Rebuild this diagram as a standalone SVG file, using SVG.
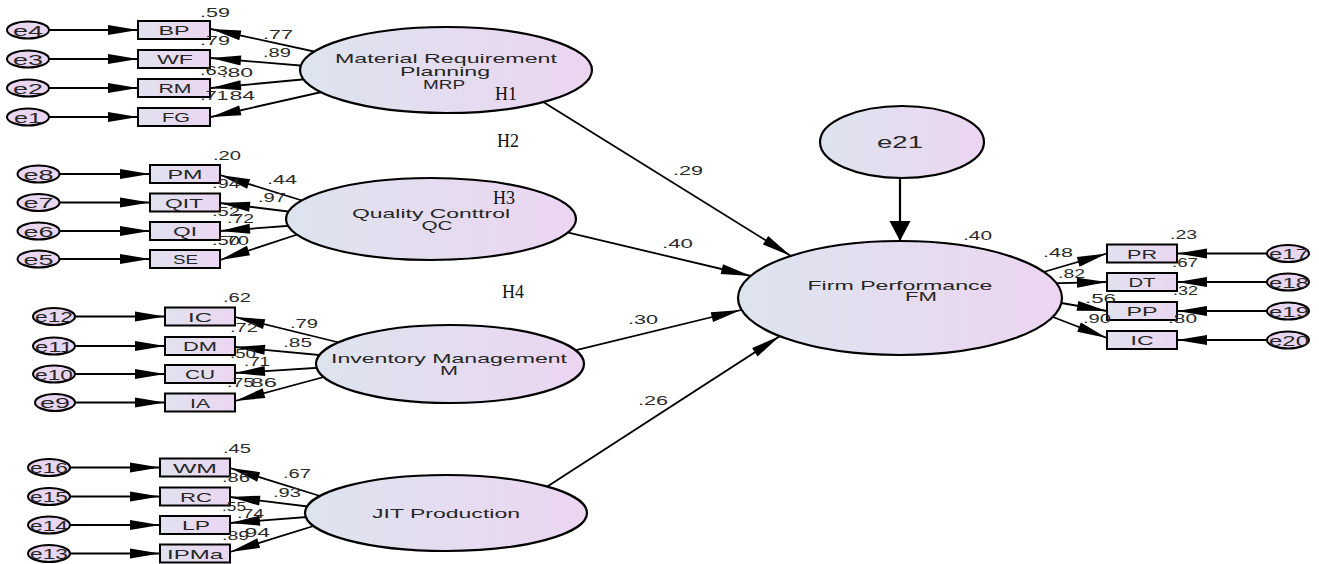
<svg xmlns="http://www.w3.org/2000/svg" width="1319" height="564" viewBox="0 0 1319 564">
<style>
.bg{fill:#ffffff}
.lat{stroke:#000;stroke-width:2.2;fill:url(#gl)}
.box{stroke:#000;stroke-width:2;fill:url(#gb)}
.err{stroke:#000;stroke-width:2;fill:#e9d6f0}
.c{stroke:#000;stroke-width:1.8;fill:none;marker-end:url(#ah)}
.c2{stroke:#000;stroke-width:2.2;fill:none;marker-end:url(#ahw)}
.t{font-family:"Liberation Sans",Arial,sans-serif;font-size:13.5px;fill:#262626}
.m{text-anchor:middle}
.e{font-family:"Liberation Sans",Arial,sans-serif;font-size:15px;fill:#262626;text-anchor:middle}
.n{font-family:"Liberation Sans",Arial,sans-serif;font-size:13.5px;fill:#2a2a2a}
.h{font-family:"Liberation Serif","Times New Roman",serif;font-size:18px;fill:#111}
</style>
<defs>
<linearGradient id="gl" x1="0" y1="0" x2="1" y2="0">
<stop offset="0" stop-color="#dde4ee"/>
<stop offset="1" stop-color="#ecd5f1"/>
</linearGradient>
<linearGradient id="gb" x1="0" y1="0" x2="1" y2="0">
<stop offset="0" stop-color="#e0e2ef"/>
<stop offset="1" stop-color="#ebd6f1"/>
</linearGradient>
<marker id="ah" markerUnits="userSpaceOnUse" markerWidth="31" markerHeight="11" refX="30" refY="5" orient="auto" overflow="visible">
<path d="M0,0 L30,5 L0,10 Z" fill="#000"/>
</marker>
<marker id="ahw" markerUnits="userSpaceOnUse" markerWidth="22" markerHeight="22" refX="20" refY="10.5" orient="auto" overflow="visible">
<path d="M0,0 L20,10.5 L0,21 Z" fill="#000"/>
</marker>
</defs>
<rect class="bg" x="0" y="0" width="1319" height="564"/>

<g id="connectors">
<path class="c" d="M49,30 L138,30"/>
<path class="c" d="M49,59 L138,59"/>
<path class="c" d="M49,88 L138,88"/>
<path class="c" d="M49,117 L138,117"/>
<path class="c" d="M59.5,174 L150,174"/>
<path class="c" d="M59.5,202.5 L150,202.5"/>
<path class="c" d="M59.5,231 L150,231"/>
<path class="c" d="M59.5,259 L150,259"/>
<path class="c" d="M75,316.5 L165,316.5"/>
<path class="c" d="M75,346 L165,346"/>
<path class="c" d="M75,374 L165,374"/>
<path class="c" d="M75,402.5 L165,402.5"/>
<path class="c" d="M70,467.5 L160,467.5"/>
<path class="c" d="M70,496.5 L160,496.5"/>
<path class="c" d="M70,525 L160,525"/>
<path class="c" d="M70,553.5 L160,553.5"/>
<path class="c" d="M1267,253.5 L1177,253.5"/>
<path class="c" d="M1267,282 L1177,282"/>
<path class="c" d="M1267,311 L1177,311"/>
<path class="c" d="M1267,340 L1177,340"/>
<path class="c" d="M330,55 L211,29"/>
<path class="c" d="M318,67 L211,58"/>
<path class="c" d="M318,78 L211,88"/>
<path class="c" d="M335,89 L211,117"/>
<path class="c" d="M310,203 L220,175"/>
<path class="c" d="M300,213 L220,203"/>
<path class="c" d="M300,225 L220,231"/>
<path class="c" d="M305,232 L220,260"/>
<path class="c" d="M345,344 L235,317"/>
<path class="c" d="M330,356 L235,347"/>
<path class="c" d="M330,367 L235,373"/>
<path class="c" d="M335,374 L235,401"/>
<path class="c" d="M320,496 L230,468"/>
<path class="c" d="M320,508 L230,497"/>
<path class="c" d="M320,516 L230,523"/>
<path class="c" d="M320,524 L230,552"/>
<path class="c" d="M540,100 L791,256"/>
<path class="c" d="M560,230.6 L751,276"/>
<path class="c" d="M570,351.7 L741,310"/>
<path class="c" d="M545,488 L780,336"/>
<path class="c2" d="M900,178 L900,241"/>
<path class="c" d="M1035,274.5 L1107,253.5"/>
<path class="c" d="M1050,283.3 L1107,282"/>
<path class="c" d="M1050,301 L1107,311"/>
<path class="c" d="M1035,310 L1107,338"/>
</g>

<g id="MRP">
<ellipse class="lat" cx="446" cy="70" rx="146" ry="43"/>
<text class="t m" x="446" y="63" textLength="222" lengthAdjust="spacingAndGlyphs">Material Requirement</text>
<text class="t m" x="445" y="76" textLength="90" lengthAdjust="spacingAndGlyphs">Planning</text>
<text class="t m" x="444" y="89" textLength="42" lengthAdjust="spacingAndGlyphs">MRP</text>
</g>
<g id="QC">
<ellipse class="lat" cx="431" cy="219" rx="145" ry="41"/>
<text class="t m" x="431" y="218" textLength="158" lengthAdjust="spacingAndGlyphs">Quality Conttrol</text>
<text class="t m" x="437" y="230" textLength="31" lengthAdjust="spacingAndGlyphs">QC</text>
</g>
<g id="IM">
<ellipse class="lat" cx="450" cy="364" rx="134" ry="39"/>
<text class="t m" x="449" y="363" textLength="236" lengthAdjust="spacingAndGlyphs">Inventory Management</text>
<text class="t m" x="449" y="375" textLength="18" lengthAdjust="spacingAndGlyphs">M</text>
</g>
<g id="JIT">
<ellipse class="lat" cx="446" cy="513" rx="141" ry="38"/>
<text class="t m" x="446" y="518" textLength="148" lengthAdjust="spacingAndGlyphs">JIT Production</text>
</g>
<g id="FM">
<ellipse class="lat" cx="900" cy="298" rx="162" ry="57"/>
<text class="t m" x="900" y="290" textLength="185" lengthAdjust="spacingAndGlyphs">Firm Performance</text>
<text class="t m" x="921" y="301" textLength="32" lengthAdjust="spacingAndGlyphs">FM</text>
</g>
<g id="e21">
<ellipse class="lat" cx="902" cy="142" rx="82" ry="36"/>
<text class="t m" x="900" y="148" style="font-size:17px" textLength="46" lengthAdjust="spacingAndGlyphs">e21</text>
</g>

<g id="BP"><rect class="box" x="138" y="21" width="72" height="18"/><text class="t m" x="174" y="35" textLength="31" lengthAdjust="spacingAndGlyphs">BP</text></g>
<g id="WF"><rect class="box" x="138" y="50" width="72" height="18"/><text class="t m" x="175" y="64" textLength="36" lengthAdjust="spacingAndGlyphs">WF</text></g>
<g id="RM"><rect class="box" x="138" y="79" width="72" height="18"/><text class="t m" x="175" y="93" textLength="33" lengthAdjust="spacingAndGlyphs">RM</text></g>
<g id="FG"><rect class="box" x="138" y="108" width="72" height="18"/><text class="t m" x="176" y="122" textLength="28" lengthAdjust="spacingAndGlyphs">FG</text></g>
<g id="e4"><ellipse class="err" cx="28" cy="30" rx="21" ry="8.5"/><text class="e" x="28" y="35.5" textLength="30" lengthAdjust="spacingAndGlyphs">e4</text></g>
<g id="e3"><ellipse class="err" cx="28" cy="59" rx="21" ry="8.5"/><text class="e" x="28" y="64.5" textLength="30" lengthAdjust="spacingAndGlyphs">e3</text></g>
<g id="e2"><ellipse class="err" cx="28" cy="88" rx="21" ry="8.5"/><text class="e" x="28" y="93.5" textLength="30" lengthAdjust="spacingAndGlyphs">e2</text></g>
<g id="e1"><ellipse class="err" cx="28" cy="117" rx="21" ry="8.5"/><text class="e" x="28" y="122.5" textLength="28" lengthAdjust="spacingAndGlyphs">e1</text></g>

<g id="PM"><rect class="box" x="150" y="165" width="70" height="18"/><text class="t m" x="185" y="179" textLength="35" lengthAdjust="spacingAndGlyphs">PM</text></g>
<g id="QIT"><rect class="box" x="150" y="193.5" width="70" height="18"/><text class="t m" x="184" y="207.5" textLength="38" lengthAdjust="spacingAndGlyphs">QIT</text></g>
<g id="QI"><rect class="box" x="150" y="222" width="70" height="18"/><text class="t m" x="185" y="236" textLength="24" lengthAdjust="spacingAndGlyphs">QI</text></g>
<g id="SE"><rect class="box" x="150" y="250" width="70" height="18"/><text class="t m" x="185.5" y="264" textLength="25" lengthAdjust="spacingAndGlyphs">SE</text></g>
<g id="e8"><ellipse class="err" cx="38.5" cy="174" rx="21" ry="8.5"/><text class="e" x="38.5" y="179.5" textLength="30" lengthAdjust="spacingAndGlyphs">e8</text></g>
<g id="e7"><ellipse class="err" cx="38.5" cy="202.5" rx="21" ry="8.5"/><text class="e" x="38.5" y="208" textLength="30" lengthAdjust="spacingAndGlyphs">e7</text></g>
<g id="e6"><ellipse class="err" cx="38.5" cy="231" rx="21" ry="8.5"/><text class="e" x="38.5" y="236.5" textLength="30" lengthAdjust="spacingAndGlyphs">e6</text></g>
<g id="e5"><ellipse class="err" cx="38.5" cy="259" rx="21" ry="8.5"/><text class="e" x="38.5" y="264.5" textLength="30" lengthAdjust="spacingAndGlyphs">e5</text></g>

<g id="IC1"><rect class="box" x="165" y="307.5" width="70" height="18"/><text class="t m" x="200" y="321.5" textLength="24" lengthAdjust="spacingAndGlyphs">IC</text></g>
<g id="DM"><rect class="box" x="165" y="337" width="70" height="18"/><text class="t m" x="200" y="351" textLength="34" lengthAdjust="spacingAndGlyphs">DM</text></g>
<g id="CU"><rect class="box" x="165" y="365" width="70" height="18"/><text class="t m" x="200" y="379" textLength="30" lengthAdjust="spacingAndGlyphs">CU</text></g>
<g id="IA"><rect class="box" x="165" y="393.5" width="70" height="18"/><text class="t m" x="200" y="407.5" textLength="20" lengthAdjust="spacingAndGlyphs">IA</text></g>
<g id="e12"><ellipse class="err" cx="54" cy="316.5" rx="21" ry="8.5"/><text class="e" x="54" y="322" textLength="38" lengthAdjust="spacingAndGlyphs">e12</text></g>
<g id="e11"><ellipse class="err" cx="54" cy="346" rx="21" ry="8.5"/><text class="e" x="54" y="351.5" textLength="38" lengthAdjust="spacingAndGlyphs">e11</text></g>
<g id="e10"><ellipse class="err" cx="54" cy="374" rx="21" ry="8.5"/><text class="e" x="54" y="379.5" textLength="38" lengthAdjust="spacingAndGlyphs">e10</text></g>
<g id="e9"><ellipse class="err" cx="55" cy="402.5" rx="20" ry="8.5"/><text class="e" x="55" y="408" textLength="30" lengthAdjust="spacingAndGlyphs">e9</text></g>

<g id="WM"><rect class="box" x="160" y="458.5" width="70" height="18"/><text class="t m" x="195" y="472.5" textLength="44" lengthAdjust="spacingAndGlyphs">WM</text></g>
<g id="RC"><rect class="box" x="160" y="487.5" width="70" height="18"/><text class="t m" x="196" y="501.5" textLength="32" lengthAdjust="spacingAndGlyphs">RC</text></g>
<g id="LP"><rect class="box" x="160" y="516" width="70" height="18"/><text class="t m" x="196" y="530" textLength="28" lengthAdjust="spacingAndGlyphs">LP</text></g>
<g id="IPMa"><rect class="box" x="160" y="544.5" width="70" height="18"/><text class="t m" x="195" y="558.5" textLength="56" lengthAdjust="spacingAndGlyphs">IPMa</text></g>
<g id="e16"><ellipse class="err" cx="49" cy="467.5" rx="21" ry="8.5"/><text class="e" x="49" y="473" textLength="38" lengthAdjust="spacingAndGlyphs">e16</text></g>
<g id="e15"><ellipse class="err" cx="49" cy="496.5" rx="21" ry="8.5"/><text class="e" x="49" y="502" textLength="38" lengthAdjust="spacingAndGlyphs">e15</text></g>
<g id="e14"><ellipse class="err" cx="49" cy="525" rx="21" ry="8.5"/><text class="e" x="49" y="530.5" textLength="38" lengthAdjust="spacingAndGlyphs">e14</text></g>
<g id="e13"><ellipse class="err" cx="49" cy="553.5" rx="21" ry="8.5"/><text class="e" x="49" y="559" textLength="38" lengthAdjust="spacingAndGlyphs">e13</text></g>

<g id="PR"><rect class="box" x="1107" y="244.5" width="70" height="18"/><text class="t m" x="1142" y="258.5" textLength="30" lengthAdjust="spacingAndGlyphs">PR</text></g>
<g id="DT"><rect class="box" x="1107" y="273" width="70" height="18"/><text class="t m" x="1142" y="287" textLength="27" lengthAdjust="spacingAndGlyphs">DT</text></g>
<g id="PP"><rect class="box" x="1107" y="302" width="70" height="18"/><text class="t m" x="1142" y="316" textLength="31" lengthAdjust="spacingAndGlyphs">PP</text></g>
<g id="IC2"><rect class="box" x="1107" y="331" width="70" height="18"/><text class="t m" x="1142" y="345" textLength="23" lengthAdjust="spacingAndGlyphs">IC</text></g>
<g id="e17"><ellipse class="err" cx="1288" cy="253.5" rx="21" ry="8.5"/><text class="e" x="1289" y="259" textLength="40" lengthAdjust="spacingAndGlyphs">e17</text></g>
<g id="e18"><ellipse class="err" cx="1288" cy="282" rx="21" ry="8.5"/><text class="e" x="1289" y="287.5" textLength="40" lengthAdjust="spacingAndGlyphs">e18</text></g>
<g id="e19"><ellipse class="err" cx="1288" cy="311" rx="21" ry="8.5"/><text class="e" x="1289" y="316.5" textLength="40" lengthAdjust="spacingAndGlyphs">e19</text></g>
<g id="e20"><ellipse class="err" cx="1288" cy="340" rx="21" ry="8.5"/><text class="e" x="1289" y="345.5" textLength="40" lengthAdjust="spacingAndGlyphs">e20</text></g>

<g id="labels">
<text class="n" x="200" y="17" textLength="30" lengthAdjust="spacingAndGlyphs">.59</text>
<text class="n" x="263" y="39" textLength="30" lengthAdjust="spacingAndGlyphs">.77</text>
<text class="n" x="200" y="45" textLength="30" lengthAdjust="spacingAndGlyphs">.79</text>
<text class="n" x="263" y="57" textLength="28" lengthAdjust="spacingAndGlyphs">.89</text>
<text class="n" x="200" y="75" textLength="28" lengthAdjust="spacingAndGlyphs">.63</text>
<text class="n" x="221" y="77" textLength="32" lengthAdjust="spacingAndGlyphs">.80</text>
<text class="n" x="200" y="100" textLength="28" lengthAdjust="spacingAndGlyphs">.71</text>
<text class="n" x="223" y="100" textLength="32" lengthAdjust="spacingAndGlyphs">.84</text>

<text class="n" x="213" y="160" textLength="28" lengthAdjust="spacingAndGlyphs">.20</text>
<text class="n" x="267" y="184" textLength="30" lengthAdjust="spacingAndGlyphs">.44</text>
<text class="n" x="212" y="188" textLength="28" lengthAdjust="spacingAndGlyphs">.94</text>
<text class="n" x="258" y="202" textLength="28" lengthAdjust="spacingAndGlyphs">.97</text>
<text class="n" x="212" y="216" textLength="28" lengthAdjust="spacingAndGlyphs">.52</text>
<text class="n" x="227" y="223" textLength="27" lengthAdjust="spacingAndGlyphs">.72</text>
<text class="n" x="212" y="245" textLength="28" lengthAdjust="spacingAndGlyphs">.50</text>
<text class="n" x="221" y="245" textLength="28" lengthAdjust="spacingAndGlyphs">.70</text>

<text class="n" x="223" y="302" textLength="28" lengthAdjust="spacingAndGlyphs">.62</text>
<text class="n" x="290" y="328" textLength="28" lengthAdjust="spacingAndGlyphs">.79</text>
<text class="n" x="230" y="332" textLength="28" lengthAdjust="spacingAndGlyphs">.72</text>
<text class="n" x="283" y="347" textLength="29" lengthAdjust="spacingAndGlyphs">.85</text>
<text class="n" x="230" y="358" textLength="26" lengthAdjust="spacingAndGlyphs">.50</text>
<text class="n" x="244" y="366" textLength="26" lengthAdjust="spacingAndGlyphs">.71</text>
<text class="n" x="227" y="387" textLength="27" lengthAdjust="spacingAndGlyphs">.75</text>
<text class="n" x="244" y="387" textLength="33" lengthAdjust="spacingAndGlyphs">.86</text>

<text class="n" x="223" y="453" textLength="28" lengthAdjust="spacingAndGlyphs">.45</text>
<text class="n" x="283" y="478" textLength="28" lengthAdjust="spacingAndGlyphs">.67</text>
<text class="n" x="222" y="482" textLength="28" lengthAdjust="spacingAndGlyphs">.86</text>
<text class="n" x="273" y="497" textLength="28" lengthAdjust="spacingAndGlyphs">.93</text>
<text class="n" x="222" y="511" textLength="24" lengthAdjust="spacingAndGlyphs">.55</text>
<text class="n" x="237" y="518" textLength="27" lengthAdjust="spacingAndGlyphs">.74</text>
<text class="n" x="222" y="540" textLength="27" lengthAdjust="spacingAndGlyphs">.89</text>
<text class="n" x="238" y="537" textLength="32" lengthAdjust="spacingAndGlyphs">.94</text>

<text class="n" x="673" y="175" textLength="30" lengthAdjust="spacingAndGlyphs">.29</text>
<text class="n" x="662" y="248" textLength="31" lengthAdjust="spacingAndGlyphs">.40</text>
<text class="n" x="628" y="324" textLength="30" lengthAdjust="spacingAndGlyphs">.30</text>
<text class="n" x="638" y="405" textLength="30" lengthAdjust="spacingAndGlyphs">.26</text>
<text class="n" x="963" y="240" textLength="29" lengthAdjust="spacingAndGlyphs">.40</text>

<text class="n" x="1043" y="257" textLength="30" lengthAdjust="spacingAndGlyphs">.48</text>
<text class="n" x="1058" y="278" textLength="27" lengthAdjust="spacingAndGlyphs">.82</text>
<text class="n" x="1085" y="303" textLength="31" lengthAdjust="spacingAndGlyphs">.56</text>
<text class="n" x="1083" y="323" textLength="28" lengthAdjust="spacingAndGlyphs">.90</text>
<text class="n" x="1170" y="239" textLength="27" lengthAdjust="spacingAndGlyphs">.23</text>
<text class="n" x="1172" y="267" textLength="26" lengthAdjust="spacingAndGlyphs">.67</text>
<text class="n" x="1173" y="295" textLength="25" lengthAdjust="spacingAndGlyphs">.32</text>
<text class="n" x="1168" y="323" textLength="29" lengthAdjust="spacingAndGlyphs">.80</text>

<text class="h" x="495" y="100">H1</text>
<text class="h" x="497" y="147">H2</text>
<text class="h" x="493" y="204">H3</text>
<text class="h" x="502" y="298">H4</text>
</g>
</svg>
